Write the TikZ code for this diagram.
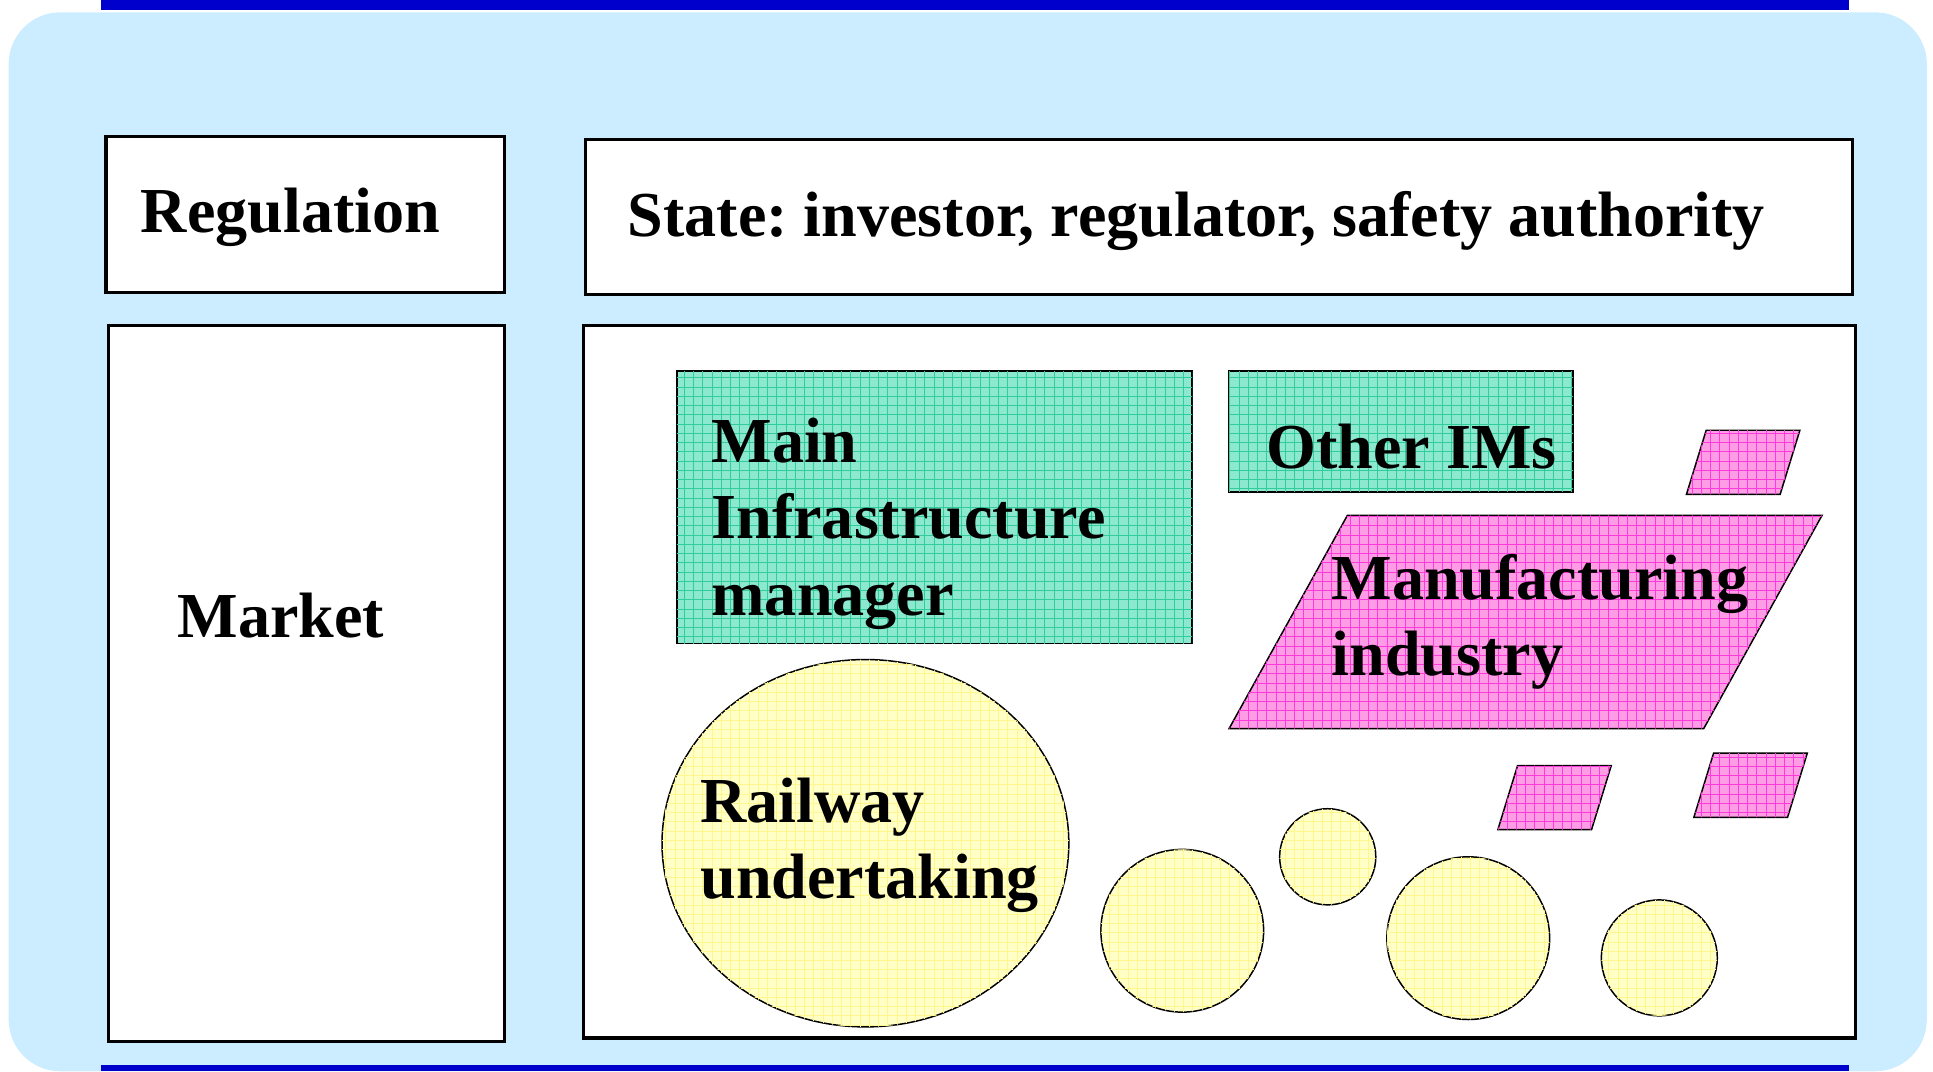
\documentclass[tikz,border=0pt]{standalone}
\usepackage{fontspec}
\setmainfont{Liberation Serif}
\usepackage{tikz}
\usetikzlibrary{patterns}
\definecolor{sky}{HTML}{CCECFF}
\definecolor{navy}{HTML}{0000CC}
\definecolor{mint}{HTML}{8CE8CE}
\definecolor{mintline}{HTML}{30CC9A}
\definecolor{rose}{HTML}{FF9CE6}
\definecolor{roseline}{HTML}{FF3ADB}
\definecolor{cream}{HTML}{FFFFC6}
\definecolor{creamline}{HTML}{FFF690}
\frenchspacing
% fine square mesh laid over the coloured fills
\pgfdeclarepatternformonly{mesh}{\pgfqpoint{-1pt}{-1pt}}{\pgfqpoint{8.5pt}{8.5pt}}{\pgfqpoint{7.5pt}{7.5pt}}{
\pgfsetlinewidth{0.55pt}
\pgfpathmoveto{\pgfqpoint{0pt}{0pt}}\pgfpathlineto{\pgfqpoint{7.5pt}{0pt}}
\pgfpathmoveto{\pgfqpoint{0pt}{0pt}}\pgfpathlineto{\pgfqpoint{0pt}{7.5pt}}
\pgfusepath{stroke}}

\begin{document}
\begin{tikzpicture}[x=1pt,y=-1pt,
lbl/.style={font=\fontsize{52}{62}\selectfont\bfseries,inner sep=0pt,align=left,anchor=base west},
frame/.style={draw,line width=2.5pt,fill=white},
im/.style={draw,line width=1.2pt,fill=mint,postaction={pattern=mesh,pattern color=mintline}},
maker/.style={draw,line width=1.2pt,fill=rose,postaction={pattern=mesh,pattern color=roseline}},
ru/.style={draw,line width=1.2pt,fill=cream,postaction={pattern=mesh,pattern color=creamline}}]
\useasboundingbox (0,0) rectangle (1568,869);
\fill[sky,rounded corners=42pt] (7,10) rectangle (1563,869);
\fill[navy] (82,0) rectangle (1500,8);
\fill[navy] (82,864) rectangle (1500,869);
% the four frames
\draw[frame] (86,111) rectangle (409,237);
\draw[frame] (475,113) rectangle (1503,239);
\draw[frame] (88,264) rectangle (409,845);
\draw[frame] (473,264) rectangle (1505,842);
% infrastructure managers
\draw[im] (549,301) rectangle (967,522);
\draw[im] (997,301) rectangle (1276,399);
% manufacturers
\draw[maker] (1093,418) -- (1478,418) -- (1382,591) -- (997,591) -- cycle;
\foreach \x/\y in {1384/349,1231/621,1390/611}
\draw[maker] (\x,\y) -- ++(76,0) -- ++(-16,52) -- ++(-76,0) -- cycle;
% railway undertakings
\draw[ru] (702,684) ellipse [x radius=165pt,y radius=149pt];
\foreach \x/\y/\r in {959/755/66,1077/695/39,1191/761/66,1346/777/47}
\draw[ru] (\x,\y) circle [radius=\r pt];
% labels, placed on the baseline of their last line
\node[lbl] (reg) at (114,189) {Regulation};
\node[lbl] (state) at (509,192) {State: investor, regulator, safety authority};
\node[lbl] (market) at (144,517) {Market};
\node[lbl] (mainim) at (577,499) {Main\\Infrastructure\\manager};
\node[lbl] (otherim) at (1027,380) {Other IMs};
\node[lbl] (manuf) at (1080,548) {Manufacturing\\industry};
\node[lbl] (rail) at (568,729) {Railway\\undertaking};
\end{tikzpicture}
\end{document}
